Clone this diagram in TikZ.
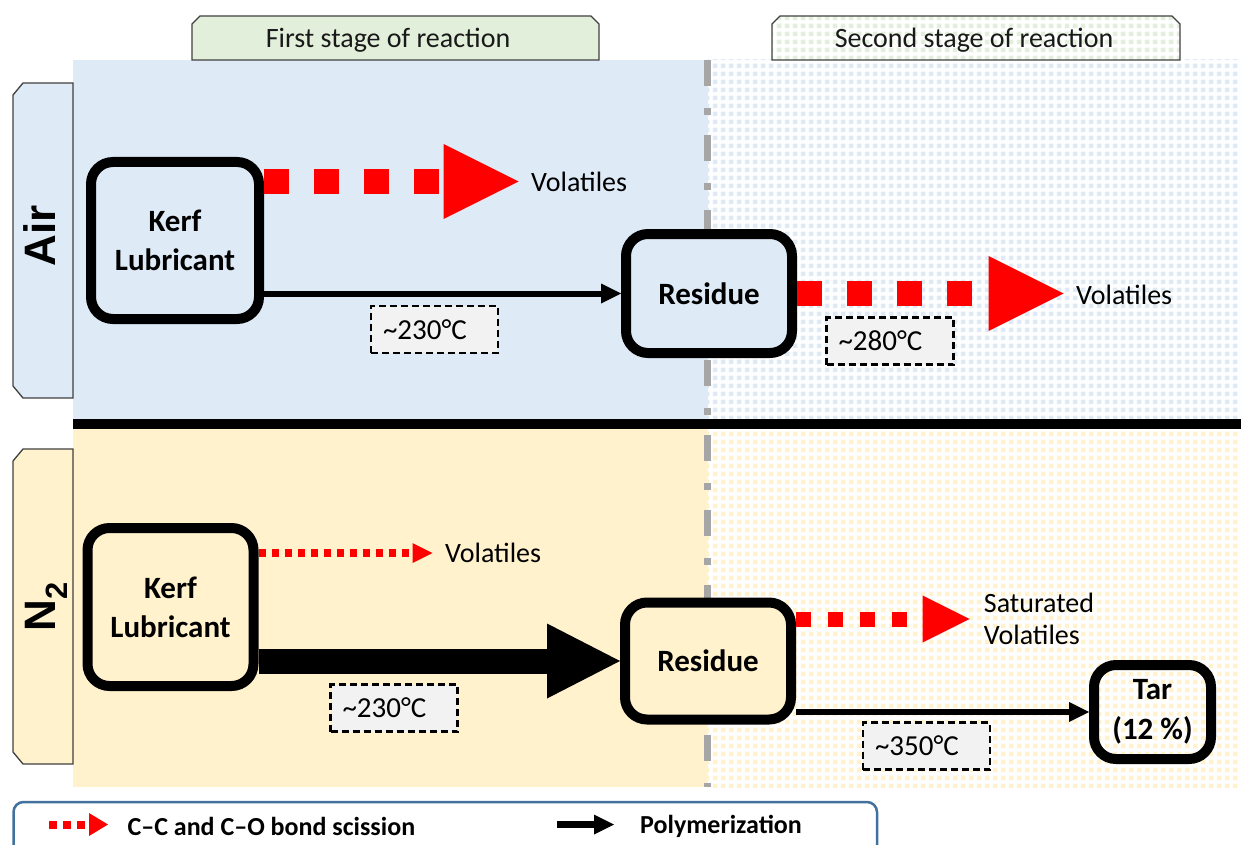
\documentclass[tikz,border=0pt]{standalone}
\usepackage{fontspec}
\setmainfont{Carlito}
\newfontfamily\arialfont{Liberation Sans}
\usetikzlibrary{arrows.meta,patterns}
\pgfdeclarepatternformonly{dotgrid}{\pgfqpoint{0pt}{0pt}}{\pgfqpoint{8pt}{8pt}}{\pgfqpoint{8pt}{8pt}}{%
  \pgfpathrectangle{\pgfqpoint{1pt}{1pt}}{\pgfqpoint{5pt}{5pt}}\pgfusepath{fill}}
\definecolor{airblue}{HTML}{DEEBF7}
\definecolor{n2yellow}{HTML}{FFF2CC}
\definecolor{tabgreen}{HTML}{E2EFDA}
\definecolor{tempgray}{HTML}{F2F2F2}
\definecolor{sepgray}{HTML}{A6A6A6}
\definecolor{legendblue}{HTML}{41719C}
\definecolor{tabline}{HTML}{404040}
\begin{document}
\begin{tikzpicture}[x=1pt,y=-1pt,
  stagebox/.style={draw=black,line width=10pt,rounded corners=22pt,align=center,inner sep=0pt,font=\fontsize{31}{39}\selectfont\bfseries},
  tempbox/.style={draw=black,fill=tempgray,line width=2.5pt,dash pattern=on 7pt off 4pt,text width=103pt,inner xsep=12pt,minimum height=47pt,align=left,font=\fontsize{29}{34}\selectfont},
  lbl/.style={inner sep=0pt,anchor=west,align=left,font=\fontsize{28}{32}\selectfont},
  legtext/.style={inner sep=0pt,anchor=west,font=\fontsize{26}{30}\selectfont\bfseries},
  tabtext/.style={inner sep=0pt,font=\fontsize{28}{34}\selectfont,text=black!90},
  tabshape/.style={draw=tabline,line width=1.3pt},
  sidetext/.style={inner sep=0pt,anchor=base,rotate=90,font=\fontsize{44}{50}\selectfont\arialfont\bfseries},
  redbig/.style={draw=red,line width=25pt,dash pattern=on 25pt off 25pt,-{Triangle[length=75pt,width=75pt,line width=0pt]}},
  redmid/.style={draw=red,line width=15pt,dash pattern=on 15pt off 17pt,-{Triangle[length=47pt,width=47pt,line width=0pt]}},
  redsmall/.style={draw=red,line width=8pt,dash pattern=on 7pt off 6pt,-{Triangle[length=20pt,width=20pt,line width=0pt]}},
  redleg/.style={draw=red,line width=8pt,dash pattern=on 8pt off 6pt,-{Triangle[length=19pt,width=23pt,line width=0pt]}},
  blkarrow/.style={draw=black,line width=6pt,-{Triangle[length=20pt,width=20pt,line width=0pt]}},
  blkbig/.style={draw=black,line width=25pt,-{Triangle[length=73pt,width=75pt,line width=0pt]}},
  sepdash/.style={draw=sepgray,line width=7pt,dash pattern=on 26pt off 22pt on 7pt off 20pt}
]
\useasboundingbox (0,0) rectangle (1241,845);
% regions
\fill[airblue] (73,60) rectangle (707.5,419);
\fill[white] (707.5,60) rectangle (1241,419);
\fill[pattern=dotgrid,pattern color=airblue] (707.5,60) rectangle (1241,419);
\fill[n2yellow] (73,429) rectangle (707.5,787);
\fill[white] (707.5,429) rectangle (1241,787);
\fill[pattern=dotgrid,pattern color=n2yellow] (707.5,429) rectangle (1241,787);
% stage tabs
\draw[tabshape,fill=tabgreen] (192,60) -- (192,24) -- (200,16) -- (591,16) -- (599,24) -- (599,60) -- cycle;
\fill[white] (772,60) -- (772,24) -- (780,16) -- (1172,16) -- (1180,24) -- (1180,60) -- cycle;
\fill[pattern=dotgrid,pattern color=tabgreen] (772,60) -- (772,24) -- (780,16) -- (1172,16) -- (1180,24) -- (1180,60) -- cycle;
\draw[tabshape] (772,60) -- (772,24) -- (780,16) -- (1172,16) -- (1180,24) -- (1180,60) -- cycle;
\node[tabtext] (s1) at (388,40) {First stage of reaction};
\node[tabtext] (s2) at (974,40) {Second stage of reaction};
% side tabs
\draw[tabshape,fill=airblue] (73,83) -- (23,83) -- (13,95) -- (13,386) -- (23,398) -- (73,398) -- cycle;
\draw[tabshape,fill=n2yellow] (73,449) -- (23,449) -- (13,461) -- (13,752) -- (23,764) -- (73,764) -- cycle;
\node[sidetext] (air) at (55,236) {Air};
\node[sidetext] (n2) at (55,606.5) {N\textsubscript{2}};
% separators
\coordinate (gtop) at (707.5,60);
\coordinate (gbot) at (707.5,787);
\draw[sepdash] (gtop) -- (gbot);
\coordinate (sepl) at (73,424);
\coordinate (sepr) at (1241,424);
\draw[line width=10pt] (sepl) -- (sepr);
% Air row
\node[stagebox,fill=airblue,minimum width=168pt,minimum height=157pt] (ka) at (175,240.5) {Kerf\\Lubricant};
\node[stagebox,fill=airblue,minimum width=166pt,minimum height=119pt] (ra) at (709,293.5) {Residue};
\node[lbl] (va1) at (531,181.5) {Volatiles};
\node[lbl] (va2) at (1076,295) {Volatiles};
\draw[redbig,shorten >=12.4pt] (ka.east |- va1.west) -- (va1.west);
\draw[blkarrow] (ka.east |- ra.west) -- (ra.west);
\draw[redbig,shorten >=12.4pt] (ra.east) -- (ra.east -| va2.west);
\node[tempbox] (t1) at (434.5,329.5) {\textasciitilde 230°C};
\node[tempbox] (t2) at (890,341) {\textasciitilde 280°C};
% N2 row
\node[stagebox,fill=n2yellow,minimum width=166pt,minimum height=158pt] (kn) at (170.5,607) {Kerf\\Lubricant};
\node[stagebox,fill=n2yellow,minimum width=166pt,minimum height=117pt] (rn) at (708,661) {Residue};
\node[stagebox,minimum width=117pt,minimum height=94pt,font=\fontsize{31}{40}\selectfont\bfseries] (tar) at (1152.5,712) {Tar\\(12 \%)};
\node[lbl] (vn1) at (445,553) {Volatiles};
\node[lbl] (sat) at (983.7,619) {Saturated\\Volatiles};
\draw[redsmall,shorten >=12.5pt] (kn.east |- vn1.west) -- (vn1.west);
\draw[blkbig] (kn.east |- rn.west) -- (rn.west);
\draw[redmid,shorten >=14pt] (rn.east |- sat.west) -- (sat.west);
\draw[blkarrow] (rn.east |- tar.west) -- (tar.west);
\node[tempbox] (t3) at (394,708) {\textasciitilde 230°C};
\node[tempbox] (t4) at (926.5,746) {\textasciitilde 350°C};
% legend
\draw[draw=legendblue,line width=2.5pt,rounded corners=10pt,fill=white] (13.5,802) rectangle (877,880);
\node[legtext] (lt1) at (127.4,826) {C–C and C–O bond scission};
\node[legtext] (lt2) at (640,826) {Polymerization};
\coordinate (l1s) at (49,824.5);
\coordinate (l2s) at (557,824.5);
\draw[redleg,shorten >=19.4pt] (l1s) -- (l1s -| lt1.west);
\draw[line width=7pt,-{Triangle[length=20pt,width=20pt,line width=0pt]},shorten >=26pt] (l2s) -- (l2s -| lt2.west);
\end{tikzpicture}
\end{document}
